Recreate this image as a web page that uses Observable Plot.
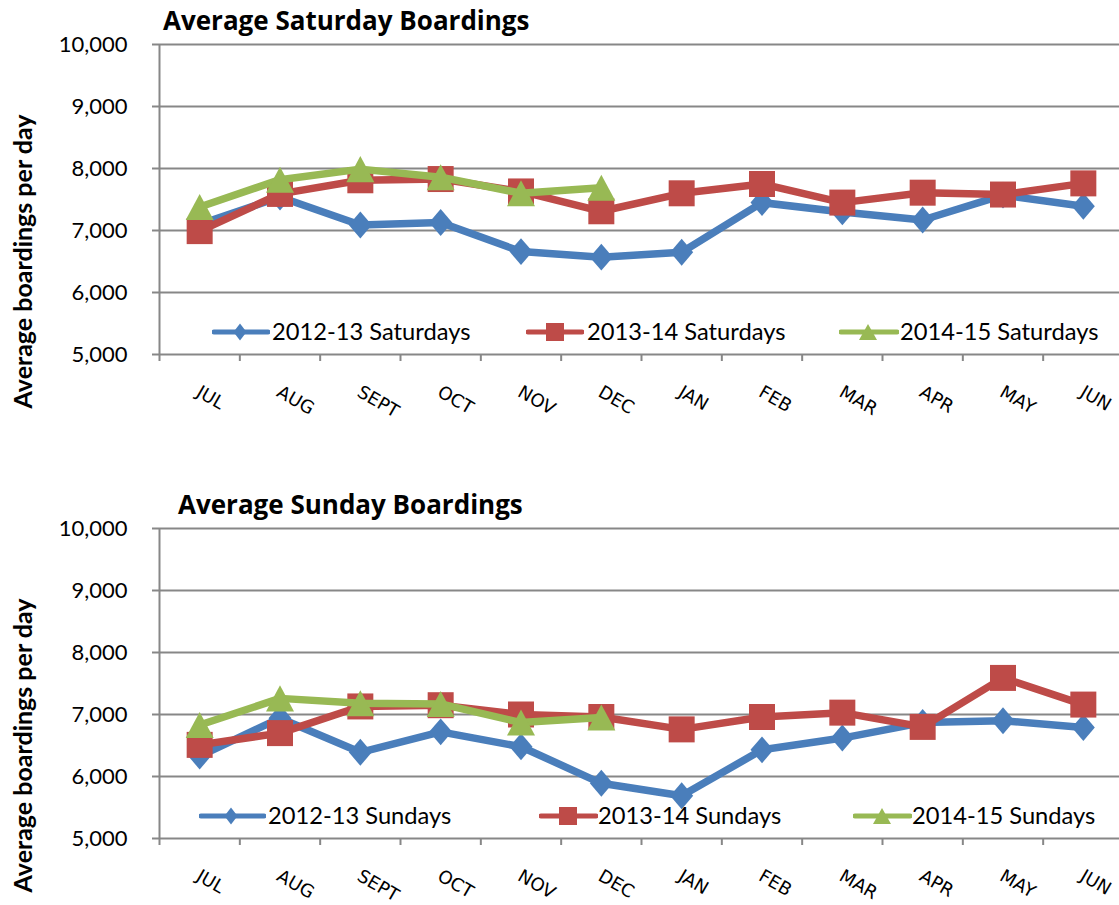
<!DOCTYPE html>
<html><head><meta charset="utf-8">
<script src="https://cdn.jsdelivr.net/npm/d3@7"></script>
<script src="https://cdn.jsdelivr.net/npm/@observablehq/plot@0.6"></script>
<style>
html,body{margin:0;padding:0;background:#fff;overflow:hidden;}
#root{position:relative;width:1119px;height:905px;font-family:Lato, sans-serif;color:#000;}
.panel{position:absolute;left:0;width:1119px;height:421px;}
.title{position:absolute;font-family:"Open Sans", Lato, sans-serif;font-weight:700;font-size:26px;white-space:nowrap;line-height:1;transform:translateY(-50%);}
.legtext{position:absolute;font-size:23.7px;white-space:nowrap;line-height:1;transform:translateY(-50%);}
.legsw{position:absolute;}
</style></head><body><div id="root"></div>
<script>
// ---- data ----
const months = ["JUL","AUG","SEPT","OCT","NOV","DEC","JAN","FEB","MAR","APR","MAY","JUN"];
const yTicks = [5000, 6000, 7000, 8000, 9000, 10000];
const satTitle = "Average Saturday Boardings";
const sunTitle = "Average Sunday Boardings";
const yLabel = "Average boardings per day";
const satNames = ["2012-13 Saturdays", "2013-14 Saturdays", "2014-15 Saturdays"];
const sunNames = ["2012-13 Sundays", "2013-14 Sundays", "2014-15 Sundays"];
const sat2012 = [7100, 7540, 7090, 7130, 6660, 6570, 6650, 7450, 7300, 7170, 7570, 7390];
const sat2013 = [6990, 7590, 7810, 7830, 7630, 7310, 7600, 7750, 7450, 7610, 7580, 7760];
const sat2014 = [7380, 7820, 7990, 7860, 7600, 7690];
const sun2012 = [6330, 6940, 6390, 6720, 6480, 5890, 5690, 6430, 6620, 6870, 6900, 6790];
const sun2013 = [6510, 6700, 7130, 7150, 7000, 6960, 6760, 6960, 7030, 6800, 7590, 7160];
const sun2014 = [6830, 7260, 7180, 7170, 6870, 6950];

const colors = ["#4a7ebb", "#be4b48", "#98b954"];
const gridColor = "#878787";

// ---- marker symbols (custom shapes) ----
const diamondSym = {draw(ctx, size){const r=Math.sqrt(size/Math.PI);ctx.moveTo(0,-r*1.17);ctx.lineTo(r,0);ctx.lineTo(0,r*1.17);ctx.lineTo(-r,0);ctx.closePath();}};
const squareSym = {draw(ctx, size){const r=Math.sqrt(size/Math.PI);ctx.rect(-r,-r,2*r,2*r);}};
const triangleSym = {draw(ctx, size){const r=Math.sqrt(size/Math.PI);ctx.moveTo(0,-r*0.93);ctx.lineTo(r,r*0.93);ctx.lineTo(-r,r*0.93);ctx.closePath();}};
const symbols = [diamondSym, squareSym, triangleSym];
const symR = [11.5, 13, 14];

function makeChart(series){
  const boundaries = d3.range(13).map(i => i - 0.5);
  const marks = [
    Plot.gridY(yTicks, {stroke: gridColor, strokeOpacity: 1, strokeWidth: 2}),
    Plot.axisY(yTicks, {tickSize: 7, tickPadding: 25, tickFormat: d3.format(","), fontSize: 22, fontFamily: "Lato", stroke: gridColor, strokeWidth: 2, fill: "#000", label: null}),
    Plot.ruleX([-0.5], {stroke: gridColor, strokeWidth: 2}),
    Plot.axisX(boundaries, {tickSize: 7, tickFormat: () => "", stroke: gridColor, strokeWidth: 2, label: null}),
    Plot.text(months, {x: (d, i) => i, frameAnchor: "bottom", text: d => d, rotate: 30, textAnchor: "start", lineAnchor: "top", dx: 2, dy: 30, fontSize: 18, fontFamily: "DejaVu Sans", fill: "#000"}),
    Plot.text([yLabel], {frameAnchor: "left", text: d => d, textAnchor: "middle", dx: -136, dy: 62, rotate: -90, fontSize: 25, fontWeight: "bold", fontFamily: "Lato", fill: "#000"})
  ];
  series.forEach((vals, k) => {
    const rows = vals.map((v, i) => ({i, v}));
    marks.push(Plot.line(rows, {x: "i", y: "v", stroke: colors[k], strokeWidth: 7.5, strokeLinejoin: "round", strokeLinecap: "round"}));
    marks.push(Plot.dot(rows, {x: "i", y: "v", symbol: symbols[k], r: symR[k], fill: colors[k], stroke: "none"}));
  });
  return Plot.plot({
    width: 1119, height: 421,
    marginTop: 44, marginBottom: 67, marginLeft: 159, marginRight: 0,
    x: {type: "linear", domain: [-0.5, 11.5], range: [159, 1123]},
    y: {domain: [5000, 10000]},
    style: {background: "transparent", overflow: "visible"},
    marks
  });
}

const root = document.getElementById("root");
function addPanel(top, series, title, titleX, names, legendSpec){
  const div = document.createElement("div");
  div.className = "panel";
  div.style.top = top + "px";
  div.appendChild(makeChart(series));
  root.appendChild(div);
  const t = document.createElement("div");
  t.className = "title"; t.textContent = title;
  t.style.left = titleX + "px"; t.style.top = (top + 20) + "px";
  root.appendChild(t);
  const ly = top + legendSpec.y;
  legendSpec.items.forEach((it, k) => {
    const w = it.x1 - it.x0;
    const sw = document.createElement("div");
    sw.className = "legsw";
    sw.style.left = it.x0 + "px"; sw.style.top = (ly - 12) + "px";
    const m = it.mx - it.x0;
    let shape;
    if (k === 0) shape = `<path d="M${m},${12-8.5} L${m+6.5},12 L${m},${12+8.5} L${m-6.5},12Z" fill="${colors[k]}"/>`;
    else if (k === 1) shape = `<rect x="${m-9}" y="3" width="18" height="18" fill="${colors[k]}"/>`;
    else shape = `<path d="M${m},4 L${m+9},20 L${m-9},20Z" fill="${colors[k]}"/>`;
    sw.innerHTML = `<svg width="${w}" height="24"><line x1="2" y1="12" x2="${w-2}" y2="12" stroke="${colors[k]}" stroke-width="5" stroke-linecap="round"/>${shape}</svg>`;
    root.appendChild(sw);
    const tx = document.createElement("div");
    tx.className = "legtext"; tx.textContent = names[k];
    tx.style.left = it.tx + "px"; tx.style.top = ly + "px";
    root.appendChild(tx);
  });
}

addPanel(0, [sat2012, sat2013, sat2014], satTitle, 163, satNames, {y: 332, items: [
  {x0: 212, x1: 270, mx: 240, tx: 272},
  {x0: 526, x1: 584, mx: 555, tx: 587},
  {x0: 839, x1: 899, mx: 868, tx: 900}
]});
addPanel(484, [sun2012, sun2013, sun2014], sunTitle, 178, sunNames, {y: 332, items: [
  {x0: 199, x1: 266, mx: 231, tx: 268},
  {x0: 539, x1: 598, mx: 568, tx: 598},
  {x0: 853, x1: 912, mx: 882, tx: 912}
]});
</script></body></html>
